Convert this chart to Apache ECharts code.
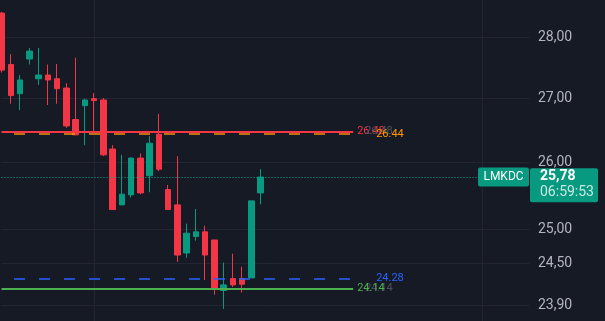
<!DOCTYPE html>
<html>
<head>
<meta charset="utf-8">
<script src="https://cdn.jsdelivr.net/npm/echarts@6/dist/echarts.min.js"></script>
<style>
html,body{margin:0;padding:0;background:#161a25;}
#c{width:605px;height:321px;}
</style>
</head>
<body>
<div id="c"></div>
<script>
// ---- data ----
const opens  = [28.40, 27.55, 27.08, 27.64, 27.32, 27.38, 27.32, 27.17, 26.67, 26.89, 27.00, 26.98, 26.21, 25.36, 25.51, 26.07, 25.80, 26.44, 25.59, 25.36, 24.65, 24.89, 24.96, 24.84, 24.11, 24.28, 24.28, 24.29, 25.54];
const closes = [27.46, 27.05, 27.30, 27.77, 27.38, 27.30, 27.16, 26.57, 26.43, 26.98, 26.97, 26.12, 25.29, 25.52, 26.07, 25.54, 26.30, 25.90, 25.29, 24.62, 24.94, 24.96, 24.62, 24.13, 24.19, 24.19, 24.20, 25.42, 25.78];
const lows   = [27.42, 26.92, 26.82, 27.55, 27.22, 26.90, 26.92, 26.54, 26.43, 26.27, 26.48, 26.10, 25.29, 25.36, 25.47, 25.52, 25.55, 25.87, 25.29, 24.52, 24.58, 24.83, 24.26, 24.05, 23.85, 24.16, 24.08, 24.29, 25.37];
const highs  = [28.42, 27.72, 27.38, 27.82, 27.82, 27.55, 27.56, 27.25, 27.66, 27.00, 27.09, 27.01, 26.27, 26.12, 26.08, 26.14, 26.41, 26.76, 25.66, 26.10, 25.08, 25.30, 25.05, 24.84, 24.51, 24.64, 24.45, 25.42, 25.90];
const futureSlots = 29;
const categories = [];
for (let i = 0; i < opens.length + futureSlots; i++) categories.push(String(i));
const yTicks = [23.9, 24.5, 25, 26, 27, 28];
const levelRed = 26.48, levelOrange = 26.44, levelBlue = 24.28, levelGreen = 24.14;
const symbolName = 'LMKDC';
const countdown = '06:59:53';

// ---- chart ----
const UP = '#089981', DOWN = '#f23645';
const GRID = '#232632';
const FONT = 'Roboto';
const levelEnd = 38;
const fmtComma = v => Number(v).toFixed(2).replace('.', ',');

const candles = opens.map((o, i) => [o, closes[i], lows[i], highs[i]]);
const lastClose = closes[closes.length - 1];

function level(value, color, dash, labelColor, dist, shiftDown) {
  const ls = { color: color, width: 2, type: dash ? [11, 14] : 'solid', dashOffset: dash ? 12.5 : 0 };
  return [
    { coord: [0, value], lineStyle: ls,
      label: { show: true, position: 'end', distance: dist, formatter: value.toFixed(2),
               color: labelColor, fontSize: 11, fontFamily: FONT,
               padding: [shiftDown * 2, 0, 0, 0] } },
    { coord: [levelEnd, value] }
  ];
}

const chart = echarts.init(document.getElementById('c'), null, { renderer: 'canvas' });
chart.setOption({
  backgroundColor: '#161a25',
  animation: false,
  grid: { left: 1.5, right: 76, top: 0, bottom: 0, containLabel: false },
  xAxis: {
    type: 'category', data: categories, boundaryGap: false,
    axisLine: { show: false }, axisTick: { show: false }, axisLabel: { show: false },
    splitLine: { show: true, interval: (idx) => idx === 10 || idx === 52, lineStyle: { color: GRID, width: 1 } }
  },
  yAxis: {
    type: 'log', logBase: 10, min: 23.68, max: 28.62, position: 'right',
    axisLine: { show: false },
    axisTick: { show: false, customValues: yTicks },
    axisLabel: { customValues: yTicks, formatter: fmtComma, color: '#b2b5be', fontSize: 14, fontFamily: FONT, margin: 9 },
    splitLine: { show: true, lineStyle: { color: GRID, width: 1 } }
  },
  series: [{
    type: 'candlestick',
    data: candles,
    barWidth: 6,
    clip: false,
    itemStyle: { color: UP, color0: DOWN, borderColor: UP, borderColor0: DOWN, borderWidth: 1 },
    markLine: {
      silent: true, animation: false, symbol: ['none', 'none'],
      data: [
        { yAxis: lastClose, lineStyle: { color: '#0aa88d', width: 1.2, type: [1, 2] }, label: { show: false } },
        level(levelRed, DOWN, false, '#f23645', 4, 0.5),
        level(levelRed, 'rgba(0,0,0,0)', false, '#4e515c', 12, 0.5),
        level(levelOrange, 'rgba(255,152,0,0.7)', true, '#ff9800', 23, 4),
        level(levelBlue, 'rgba(41,98,255,0.75)', true, '#2962ff', 23, 2.5),
        level(levelGreen, 'rgba(0,0,0,0)', false, '#4e515c', 12, 1),
        level(levelGreen, '#4caf50', false, '#4caf50', 4, 1)
      ]
    }
  }]
});

const yLast = chart.convertToPixel({ yAxisIndex: 0 }, lastClose);
chart.setOption({
  graphic: [
    { type: 'rect', z: 100, shape: { x: 478, y: yLast - 9.5, width: 51, height: 19, r: 2 }, style: { fill: UP } },
    { type: 'text', z: 101, x: 503.5, y: yLast, style: { text: symbolName, fill: '#ffffff', font: '12px Roboto', align: 'center', verticalAlign: 'middle' } },
    { type: 'rect', z: 100, shape: { x: 530, y: yLast - 8.7, width: 68, height: 34, r: 2 }, style: { fill: UP } },
    { type: 'text', z: 101, x: 540, y: yLast - 0.5, style: { text: fmtComma(lastClose), fill: '#ffffff', font: 'bold 14px Roboto', align: 'left', verticalAlign: 'middle' } },
    { type: 'text', z: 101, x: 540, y: yLast + 15, style: { text: countdown, fill: 'rgba(255,255,255,0.78)', font: '14px Roboto', align: 'left', verticalAlign: 'middle' } }
  ]
});
</script>
</body>
</html>
